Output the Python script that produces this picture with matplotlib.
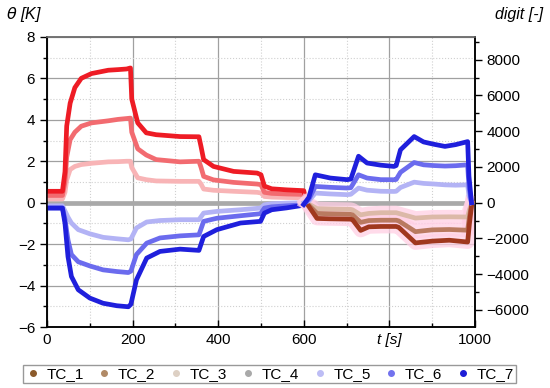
"""
Thermocouple response: theta [K] on the left axis, raw digits on the right.
Reds/blues up to t=600 s are read on the theta axis, the rest on the digit axis.
"""
import matplotlib.pyplot as plt
from matplotlib.lines import Line2D
from matplotlib.ticker import MultipleLocator

plt.rcParams['font.family'] = ['Liberation Sans', 'DejaVu Sans']

# ---- first phase (theta axis, K) ----
t_red = [0, 36, 42, 46, 54, 65, 80, 104, 143, 166, 186, 195, 198, 212, 232, 255,
         311, 355, 360, 366, 389, 436, 491, 500, 508, 525, 560, 600, 606]
red_hi = [0.55, 0.55, 1.5, 3.7, 4.8, 5.55, 6.0, 6.23, 6.39, 6.42, 6.45, 6.5, 5.0,
          3.85, 3.37, 3.28, 3.19, 3.18, 2.7, 2.08, 1.75, 1.51, 1.43, 1.35, 0.8,
          0.67, 0.62, 0.58, 0.0]
red_mid = [0.35, 0.35, 1.0, 2.2, 3.04, 3.4, 3.69, 3.85, 3.95, 4.02, 4.06, 4.08,
           3.4, 2.6, 2.3, 2.08, 1.97, 2.0, 1.7, 1.27, 1.1, 0.98, 0.9, 0.87, 0.5,
           0.45, 0.42, 0.4, 0.0]
red_lo = [0.18, 0.18, 0.5, 1.1, 1.6, 1.75, 1.84, 1.9, 1.97, 1.98, 2.0, 2.0, 1.7,
          1.2, 1.11, 1.05, 1.03, 1.03, 0.9, 0.66, 0.6, 0.55, 0.5, 0.47, 0.3,
          0.27, 0.25, 0.24, 0.0]

t_blue = [0, 36, 42, 49, 57, 73, 100, 131, 163, 190, 196, 209, 233, 264, 311,
          355, 366, 397, 452, 499, 508, 525, 560, 600]
blue_hi = [-0.26, -0.26, -1.0, -2.6, -3.56, -4.2, -4.6, -4.85, -4.97, -5.02, -4.9,
           -3.72, -2.67, -2.35, -2.24, -2.3, -1.63, -1.3, -0.98, -0.9, -0.5,
           -0.34, -0.25, -0.12]
blue_mid = [-0.25, -0.25, -0.8, -1.8, -2.5, -2.85, -3.05, -3.24, -3.32, -3.37,
            -3.3, -2.5, -1.95, -1.7, -1.6, -1.55, -0.9, -0.75, -0.63, -0.53,
            -0.26, -0.2, -0.15, -0.1]
blue_lo = [-0.15, -0.15, -0.4, -0.7, -0.98, -1.3, -1.5, -1.67, -1.74, -1.79,
           -1.75, -1.22, -0.93, -0.86, -0.82, -0.82, -0.5, -0.42, -0.34, -0.26,
           -0.1, -0.05, -0.02, 0.0]

t_zero = [0, 985]
gray_zero = [0.0, 0.0]

# ---- second phase (digit axis) ----
t_blue2 = [600, 612, 627, 662, 701, 710, 728, 748, 780, 811, 816, 826, 858, 880,
           902, 930, 955, 983, 986, 992]
blue2_hi = [-100, 300, 1560, 1380, 1290, 1320, 2600, 2220, 2100, 2030, 2080, 2960,
            3700, 3400, 3280, 3150, 3250, 3420, 1500, 0]
blue2_mid = [-100, 200, 910, 860, 820, 840, 1560, 1380, 1290, 1285, 1300, 1700,
             2250, 2120, 2080, 2050, 2070, 2120, 900, 0]
blue2_lo = [0, 100, 540, 490, 450, 470, 820, 700, 640, 630, 640, 850, 1150, 1080,
            1050, 1000, 980, 1000, 400, 0]

t_brown = [606, 631, 660, 709, 714, 733, 752, 780, 816, 822, 861, 900, 940, 983,
           987, 993]
brown_hi = [0, -880, -900, -920, -950, -1550, -1350, -1330, -1330, -1380, -2250,
            -2150, -2100, -2200, -1200, 0]
brown_mid = [0, -600, -620, -650, -680, -1100, -1000, -980, -980, -1020, -1620,
             -1520, -1500, -1540, -800, 0]
brown_lo = [0, -330, -350, -370, -400, -680, -600, -560, -560, -600, -860, -800,
            -790, -800, -400, 0]

legend_labels = ['TC_1', 'TC_2', 'TC_3', 'TC_4', 'TC_5', 'TC_6', 'TC_7']
legend_colors = ['#8b5a2b', '#b08a66', '#ddd0c4', '#a9a9a9', '#bdbdf5',
                 '#7272ee', '#1c1cd6']

DIGIT_PER_K = 1160
LW = 3.4


def main() -> None:
    fig = plt.figure(figsize=(5.5, 3.88), dpi=100)
    ax = fig.add_axes([0.0855, 0.157, 0.778, 0.748])
    ax2 = ax.twinx()

    ax.set_xlim(0, 1000)
    ax.set_ylim(-6, 8)
    ax2.set_ylim(-6 * DIGIT_PER_K, 8 * DIGIT_PER_K)

    # grid
    ax.xaxis.set_major_locator(MultipleLocator(200))
    ax.xaxis.set_minor_locator(MultipleLocator(100))
    ax.yaxis.set_major_locator(MultipleLocator(2))
    ax.yaxis.set_minor_locator(MultipleLocator(1))
    ax.grid(True, which='major', color='#a0a0a0', linewidth=0.9)
    ax.grid(True, which='minor', color='#d0d0d0', linewidth=0.8, linestyle=':')
    ax.set_axisbelow(True)

    # first phase on theta axis
    ax.plot(t_zero, gray_zero, color='#a9a9a9', lw=LW, solid_capstyle='butt', zorder=3)
    ax.plot(t_red, red_lo, color='#f8b4b6', lw=LW, zorder=3)
    ax.plot(t_red, red_mid, color='#f26b70', lw=LW, zorder=3)
    ax.plot(t_red, red_hi, color='#ee1c25', lw=LW, zorder=3)
    ax.plot(t_blue, blue_lo, color='#b3b3f5', lw=LW, zorder=3)
    ax.plot(t_blue, blue_mid, color='#6b6bee', lw=LW, zorder=3)
    ax.plot(t_blue, blue_hi, color='#1f1fdc', lw=LW, zorder=3)

    # second phase on digit axis
    for ys in (brown_lo, brown_mid, brown_hi):
        ax2.plot(t_brown, ys, color='#ffcfe4', lw=10, alpha=0.75, zorder=1)
    ax2.plot(t_brown, brown_lo, color='#dcb9a8', lw=LW, zorder=3)
    ax2.plot(t_brown, brown_mid, color='#b97a60', lw=LW, zorder=3)
    ax2.plot(t_brown, brown_hi, color='#a0381e', lw=LW, zorder=3)
    ax2.plot(t_blue2, blue2_lo, color='#b3b3f5', lw=LW, zorder=3)
    ax2.plot(t_blue2, blue2_mid, color='#6b6bee', lw=LW, zorder=3)
    ax2.plot(t_blue2, blue2_hi, color='#1f1fdc', lw=LW, zorder=3)

    # ticks
    ax.set_yticks(range(-6, 9, 2))
    ax.set_xticks([0, 200, 400, 600, 800, 1000])
    ax.set_xticklabels(['0', '200', '400', '600', 't [s]', '1000'])
    ax.get_xticklabels()[4].set_style('italic')
    ax.tick_params(axis='y', which='major', direction='out', length=5,
                   labelsize=11, width=1)
    ax.tick_params(axis='y', which='minor', direction='out', length=3, width=1)
    ax.tick_params(axis='x', which='major', direction='in', length=5,
                   labelsize=11, width=1, pad=4)
    ax.tick_params(axis='x', which='minor', direction='in', length=3, width=1)
    ax2.set_yticks(range(-6000, 8001, 2000))
    ax2.yaxis.set_minor_locator(MultipleLocator(1000))
    ax2.tick_params(axis='y', which='major', direction='out', length=5,
                    labelsize=11, width=1)
    ax2.tick_params(axis='y', which='minor', direction='out', length=3, width=1)

    for a in (ax, ax2):
        for s in ('left', 'right', 'bottom'):
            a.spines[s].set_color('black')
            a.spines[s].set_linewidth(1.1)
        a.spines['top'].set_color('#707070')
        a.spines['top'].set_linewidth(1.1)

    fig.text(0.01, 0.962, r'$\theta$ [K]', fontsize=11.5, style='italic',
             ha='left', va='center')
    fig.text(0.988, 0.962, 'digit [-]', fontsize=11.5, style='italic',
             ha='right', va='center')

    handles = [Line2D([], [], linestyle='none', marker='o', markersize=4,
                      color=c) for c in legend_colors]
    fig.legend(handles, legend_labels, loc='center', ncol=7,
               bbox_to_anchor=(0.490, 0.036), fontsize=11, frameon=True,
               fancybox=False, edgecolor='#808080', handletextpad=0.4,
               columnspacing=0.85, borderpad=0.12, handlelength=1.0,
               borderaxespad=0)

    fig.savefig('out.png', dpi=100)
    plt.close(fig)


if __name__ == '__main__':
    main()
